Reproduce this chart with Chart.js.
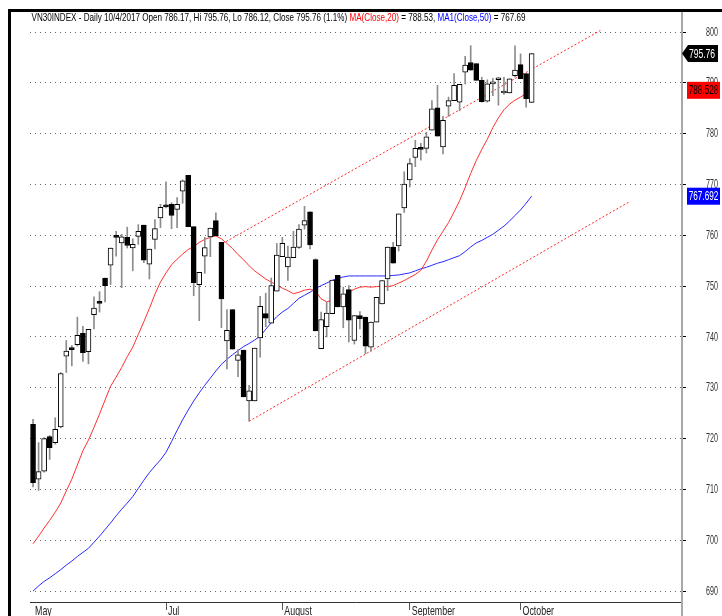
<!DOCTYPE html>
<html lang="en">
<head>
<meta charset="UTF-8">
<title>VN30INDEX - Daily</title>
<script src="https://cdn.jsdelivr.net/npm/chart.js"></script>
<style>
  html, body { margin: 0; padding: 0; background: #fff; }
  #wrap { width: 722px; height: 616px; }
</style>
</head>
<body>
<div id="wrap"><canvas id="grafico" width="722" height="616"></canvas></div>
<script>
// one value per trading day, index 0 = first candle on the left
const opens  = [722.8, 712.0, 713.6, 720.4, 719.2, 722.3, 736.2, 737.9, 738.5, 740.7,
                737.1, 744.4, 746.9, 751.6, 754.1, 759.8, 758.5, 759.6, 757.5, 759.8,
                762.0, 754.3, 759.2, 763.4, 765.9, 766.1, 765.1, 768.7, 771.8, 761.7,
                750.3, 755.9, 759.7, 762.9, 758.6, 739.2, 745.4, 735.4, 737.4, 727.4,
                727.4, 739.8, 744.6, 742.7, 749.0, 755.8, 753.8, 755.6, 757.6, 762.0,
                764.6, 755.2, 737.7, 742.0, 744.6, 752.1, 745.9, 749.3, 739.3, 744.2,
                743.9, 738.0, 742.9, 746.5, 751.4, 757.7, 757.9, 765.4, 770.9, 775.3,
                777.1, 777.1, 780.7, 785.1, 777.4, 785.4, 786.5, 786.2, 792.1, 794.0,
                793.8, 790.5, 786.4, 789.8, 790.6, 788.0, 788.0, 791.4, 793.6, 791.8,
                786.17];
const highs  = [723.8, 719.2, 720.2, 720.6, 724.1, 733.0, 739.3, 738.3, 743.9, 742.1,
                741.5, 747.9, 748.9, 751.6, 757.5, 760.8, 760.2, 761.6, 759.3, 762.1,
                762.0, 757.3, 763.1, 766.1, 770.5, 766.4, 767.4, 770.9, 771.8, 761.7,
                752.7, 759.6, 761.4, 764.4, 758.6, 745.4, 745.4, 737.5, 737.4, 730.5,
                737.8, 748.0, 748.6, 751.6, 758.4, 759.6, 757.9, 760.8, 762.1, 765.7,
                764.6, 755.4, 744.9, 746.8, 751.2, 752.1, 749.8, 750.1, 744.2, 745.0,
                743.9, 742.9, 747.8, 751.1, 757.7, 758.6, 764.2, 772.5, 775.1, 778.7,
                778.1, 780.3, 786.5, 789.5, 783.4, 787.2, 791.8, 789.7, 795.2, 797.3,
                793.8, 791.1, 790.6, 790.9, 791.1, 791.1, 790.8, 797.3, 795.7, 791.8,
                795.76];
const lows   = [710.5, 709.8, 713.4, 715.9, 718.9, 722.1, 733.0, 734.3, 738.2, 735.2,
                734.7, 741.6, 744.9, 746.9, 750.3, 755.9, 749.7, 757.5, 753.0, 758.2,
                754.6, 751.4, 757.3, 761.5, 765.4, 761.3, 761.5, 766.3, 761.7, 748.1,
                743.2, 752.5, 755.8, 759.9, 741.8, 733.7, 737.6, 732.2, 728.2, 723.4,
                727.4, 736.0, 742.0, 742.7, 749.0, 755.8, 751.1, 755.6, 757.4, 761.2,
                757.3, 741.2, 737.7, 740.0, 744.6, 745.9, 741.8, 739.0, 738.6, 741.6,
                736.7, 737.2, 742.9, 746.5, 749.1, 754.5, 756.9, 764.5, 769.5, 773.5,
                774.8, 776.2, 780.7, 779.5, 776.0, 783.4, 786.5, 784.5, 789.8, 792.5,
                790.5, 786.2, 786.2, 787.5, 785.6, 787.7, 788.0, 791.1, 790.8, 785.2,
                786.12];
const closes = [711.3, 713.5, 720.0, 718.2, 721.8, 732.8, 737.2, 737.5, 740.3, 736.9,
                741.5, 745.7, 746.6, 750.1, 757.5, 759.6, 759.7, 758.0, 758.2, 760.8,
                755.1, 757.3, 761.3, 765.5, 765.6, 763.9, 766.1, 770.7, 761.7, 750.7,
                752.7, 757.6, 761.4, 759.9, 747.5, 741.3, 737.6, 736.5, 728.2, 729.4,
                737.8, 746.0, 743.7, 750.1, 756.1, 758.4, 755.7, 757.7, 761.2, 762.9,
                758.1, 741.2, 743.4, 744.7, 751.2, 745.9, 748.5, 743.3, 744.2, 743.6,
                738.2, 742.9, 747.8, 751.1, 757.7, 754.5, 764.2, 770.1, 774.1, 777.1,
                776.9, 779.4, 784.9, 779.5, 782.6, 786.5, 789.5, 789.7, 793.5, 792.5,
                790.5, 786.3, 789.8, 790.2, 790.9, 788.4, 790.8, 792.5, 790.8, 786.9,
                795.76];

// moving averages
const ma20 = [699.3, 700.8, 702.4, 703.9, 705.5, 707.3, 709.7, 712.0, 714.8, 717.6,
              719.7, 722.2, 724.8, 727.6, 730.3, 732.1, 734.0, 736.1, 738.0, 740.5,
              743.0, 745.6, 748.4, 750.8, 752.6, 754.2, 755.3, 756.3, 757.2, 757.8,
              758.6, 759.2, 759.6, 759.9, 759.3, 758.4, 757.4, 756.2, 755.2, 754.0,
              753.0, 752.2, 751.4, 750.8, 750.2, 749.6, 749.1, 748.5, 748.8, 749.2,
              749.4, 749.0, 747.5, 746.9, 747.2, 747.6, 748.1, 748.8, 749.4, 749.8,
              749.9, 749.8, 749.9, 750.0, 749.9, 750.1, 750.6, 751.1, 751.7, 752.3,
              753.1, 754.9, 757.1, 759.1, 760.8, 762.5, 764.6, 766.8, 769.4, 772.2,
              774.7, 776.9, 778.9, 781.2, 783.1, 784.7, 785.8, 786.6, 787.2, 787.9,
              788.5];
const ma50 = [690.0, 691.0, 691.9, 692.6, 693.4, 694.2, 695.1, 695.9, 696.8, 697.6,
              698.4, 699.6, 700.8, 702.1, 703.4, 704.8, 706.1, 707.3, 708.6, 710.2,
              711.8, 713.3, 714.6, 715.8, 717.3, 719.4, 721.6, 723.7, 725.6, 727.4,
              729.0, 730.5, 731.9, 733.3, 734.6, 735.6, 736.5, 737.3, 738.1, 738.7,
              739.4, 740.1, 741.5, 742.8, 744.0, 744.9, 745.6, 746.6, 747.6, 748.2,
              748.8, 749.5, 750.1, 750.6, 751.1, 751.6, 751.8, 752.0, 752.0, 752.0,
              752.0, 752.0, 752.0, 752.0, 752.0, 752.1, 752.2, 752.4, 752.6, 753.0,
              753.4, 753.7, 754.1, 754.5, 754.8, 755.2, 755.6, 756.0, 756.8, 757.7,
              758.5, 759.0, 759.6, 760.2, 761.0, 761.8, 762.8, 763.9, 765.0, 766.3,
              767.7];

// trend channel (index, value)
const trendUpIdx  = [33.6, 102.4];
const trendUpVal  = [758.0, 800.3];
const trendLowIdx = [39.0, 107.8];
const trendLowVal = [723.4, 766.7];

const monthTickIdx = [0, 24, 45, 68, 88];
const monthNames   = ['May', 'Jul', 'August', 'September', 'October'];
const yTicks = [690, 700, 710, 720, 730, 740, 750, 760, 770, 780, 790, 800];

const lastClose = 795.76;
const lastMa20  = 788.528;
const lastMa50  = 767.692;

const headerParts = [
  ['VN30INDEX - Daily 10/4/2017 Open 786.17, Hi 795.76, Lo 786.12, Close 795.76 (1.1%) ', '#000'],
  ['MA(Close,20)', '#ff0000'],
  [' = 788.53, ', '#000'],
  ['MA1(Close,50)', '#0000ff'],
  [' = 767.69', '#000']
];

const FONT = '"Liberation Sans", Arial, sans-serif';

// texto estreito: desenha com escala horizontal
function squashText(ctx, text, x, y, sx, align) {
  const w = ctx.measureText(text).width * sx;
  let left = x;
  if (align === 'right') left = x - w;
  else if (align === 'center') left = x - w / 2;
  ctx.save();
  ctx.translate(left, y);
  ctx.scale(sx, 1);
  ctx.textAlign = 'left';
  ctx.fillText(text, 0, 0);
  ctx.restore();
  return w;
}

const decoracao = {
  id: 'decoracao',
  beforeDraw(chart) {
    const ctx = chart.ctx;
    ctx.save();
    ctx.fillStyle = '#fff';
    ctx.fillRect(0, 0, chart.width, chart.height);
    ctx.restore();
  },
  afterDraw(chart) {
    const ctx = chart.ctx;
    const xs = chart.scales.x;
    const ys = chart.scales.y;
    const area = chart.chartArea;
    ctx.save();

    // eixo vertical cinza
    ctx.fillStyle = '#a8a8a8';
    ctx.fillRect(area.right - 1, area.top, 2, chart.height - area.top);

    // moldura preta
    ctx.fillStyle = '#000';
    ctx.fillRect(8, 9, chart.width - 8, 3);
    ctx.fillRect(8, 9, 3, chart.height - 9);

    // rótulos do eixo y
    ctx.font = '13px ' + FONT;
    ctx.textBaseline = 'middle';
    ctx.fillStyle = '#333';
    yTicks.forEach(v => squashText(ctx, String(v), 718, ys.getPixelForValue(v), 0.55, 'right'));

    // meses
    ctx.textBaseline = 'alphabetic';
    ctx.fillStyle = '#222';
    monthTickIdx.forEach((v, i) => squashText(ctx, monthNames[i], xs.getPixelForValue(v) + 2, 615, 0.68, 'left'));

    // cabeçalho
    ctx.font = '11px ' + FONT;
    const total = headerParts.reduce((s, p) => s + ctx.measureText(p[0]).width, 0);
    const sx = 494 / total;
    let x = 31.5;
    headerParts.forEach(p => {
      ctx.fillStyle = p[1];
      x += squashText(ctx, p[0], x, 20.5, sx, 'left');
    });

    // etiquetas de valor
    ctx.font = '13px ' + FONT;
    ctx.textBaseline = 'middle';
    let y = ys.getPixelForValue(lastClose);
    ctx.fillStyle = '#000';
    ctx.beginPath();
    ctx.moveTo(area.right, y);
    ctx.lineTo(area.right + 6, y - 8.5);
    ctx.lineTo(718, y - 8.5);
    ctx.lineTo(718, y + 8.5);
    ctx.lineTo(area.right + 6, y + 8.5);
    ctx.closePath();
    ctx.fill();
    ctx.fillStyle = '#fff';
    squashText(ctx, lastClose.toFixed(2), 702, y + 0.5, 0.66, 'center');

    y = ys.getPixelForValue(lastMa20);
    ctx.fillStyle = '#ff0000';
    ctx.fillRect(687, y - 8.5, 33, 17);
    ctx.fillStyle = '#000';
    squashText(ctx, lastMa20.toFixed(3), 703.5, y + 0.5, 0.63, 'center');

    y = ys.getPixelForValue(lastMa50);
    ctx.fillStyle = '#0000ff';
    ctx.fillRect(687, y - 8.5, 33, 17);
    ctx.fillStyle = '#fff';
    squashText(ctx, lastMa50.toFixed(3), 703.5, y + 0.5, 0.63, 'center');

    ctx.restore();
  }
};

new Chart(document.getElementById('grafico'), {
  type: 'bar',
  data: {
    datasets: [
      {
        label: 'Wick',
        data: lows.map((l, i) => ({ x: i, y: [l, highs[i]] })),
        backgroundColor: '#8c8c8c',
        barThickness: 1,
        grouped: false,
        order: 1
      },
      {
        label: 'Body',
        data: opens.map((o, i) => ({ x: i, y: [o, closes[i]] })),
        backgroundColor: c => closes[c.dataIndex] >= opens[c.dataIndex] ? '#fff' : '#000',
        borderColor: '#000',
        borderWidth: 1,
        borderSkipped: false,
        barThickness: 5,
        minBarLength: 2,
        grouped: false,
        order: 0
      },
      {
        type: 'line',
        label: 'MA(Close,20)',
        data: ma20.map((v, i) => ({ x: i, y: v })),
        borderColor: '#ff3030',
        borderWidth: 1,
        pointRadius: 0,
        tension: 0,
        order: 2
      },
      {
        type: 'line',
        label: 'MA1(Close,50)',
        data: ma50.map((v, i) => ({ x: i, y: v })),
        borderColor: '#2a2aff',
        borderWidth: 1,
        pointRadius: 0,
        tension: 0,
        order: 2
      },
      {
        type: 'line',
        label: 'Trend up',
        data: trendUpIdx.map((v, i) => ({ x: v, y: trendUpVal[i] })),
        borderColor: '#ff2a2a',
        borderWidth: 1,
        borderDash: [2, 2],
        pointRadius: 0,
        order: 3
      },
      {
        type: 'line',
        label: 'Trend low',
        data: trendLowIdx.map((v, i) => ({ x: v, y: trendLowVal[i] })),
        borderColor: '#ff2a2a',
        borderWidth: 1,
        borderDash: [2, 2],
        pointRadius: 0,
        order: 3
      }
    ]
  },
  options: {
    responsive: false,
    animation: false,
    devicePixelRatio: 1,
    layout: { padding: { left: 30, top: 12, right: 4, bottom: 0 } },
    plugins: {
      legend: { display: false },
      tooltip: { enabled: false },
      title: { display: false }
    },
    scales: {
      x: {
        type: 'linear',
        min: -0.55,
        max: 117.14,
        offset: false,
        afterBuildTicks: s => { s.ticks = monthTickIdx.map(v => ({ value: v })); },
        afterFit: s => { s.height = 14; },
        ticks: { display: false },
        grid: {
          offset: false,
          drawOnChartArea: false,
          tickLength: 8,
          tickColor: c => c.index === 0 ? 'rgba(0,0,0,0)' : '#555'
        },
        border: { display: true, color: '#333', width: 1 }
      },
      y: {
        type: 'linear',
        position: 'right',
        min: 687.84,
        max: 803.94,
        afterBuildTicks: s => { s.ticks = yTicks.map(v => ({ value: v })); },
        afterFit: s => { s.width = 36; },
        ticks: { display: false },
        grid: { color: '#666', lineWidth: 1, tickLength: 4, tickColor: '#000' },
        border: { display: false, dash: [1, 4] }
      }
    }
  },
  plugins: [decoracao]
});
</script>
</body>
</html>
